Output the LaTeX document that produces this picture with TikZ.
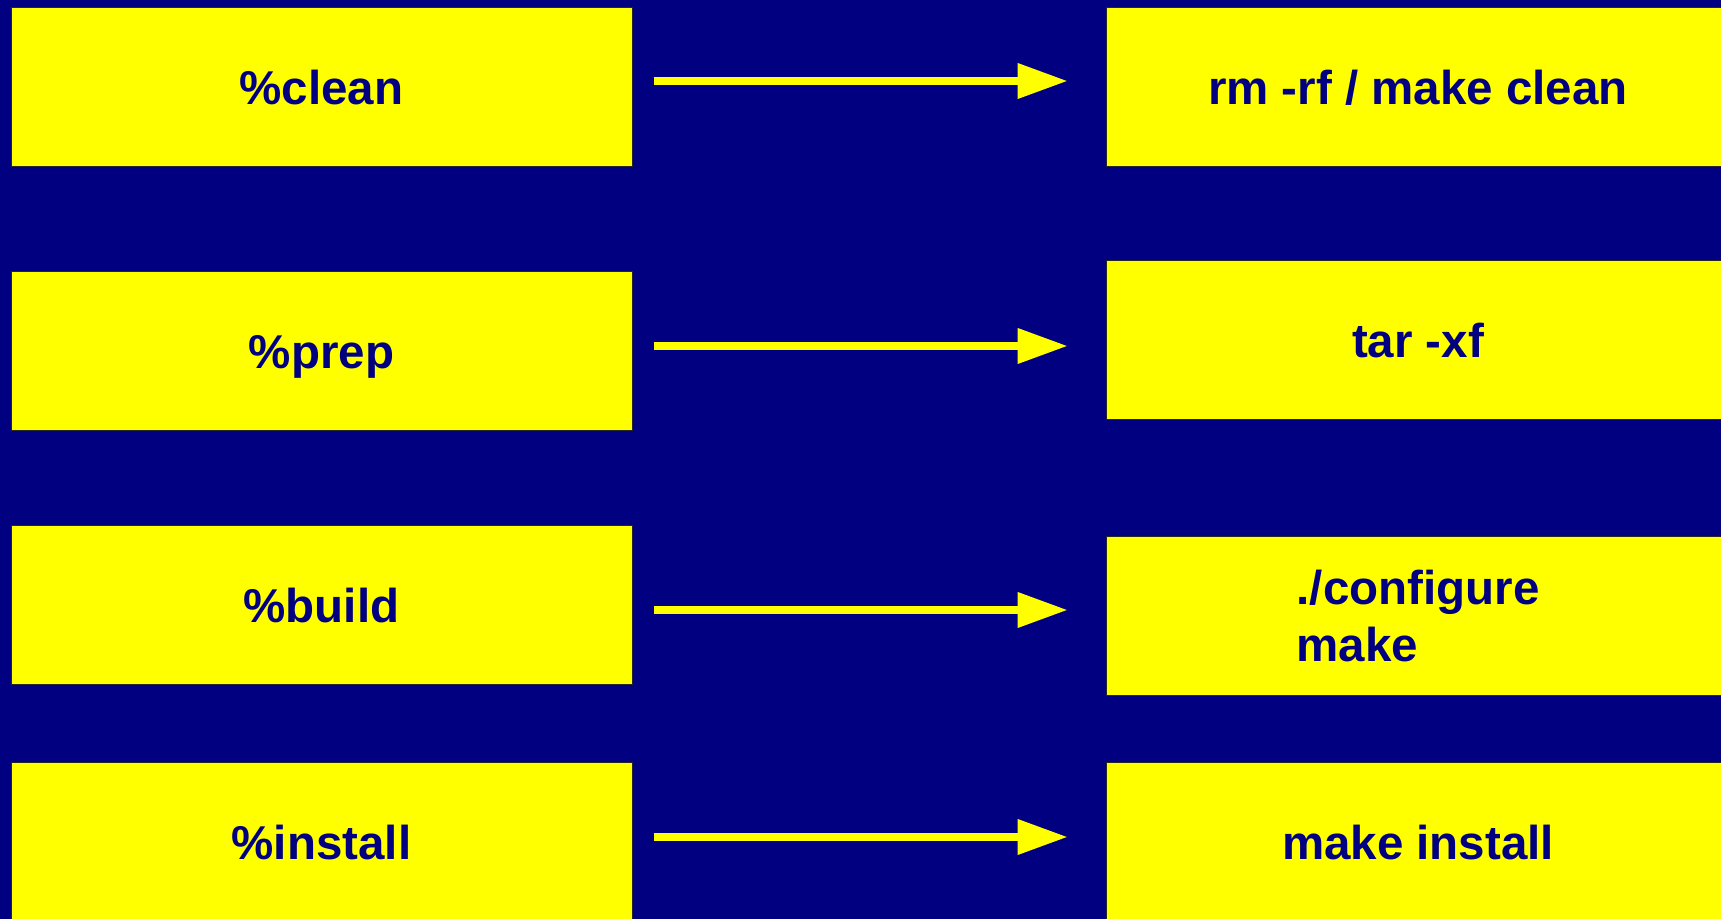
\documentclass[tikz,border=0pt]{standalone}
\usepackage{fontspec}
\setmainfont{Liberation Sans}
\usetikzlibrary{arrows.meta}
\definecolor{navy}{HTML}{000080}
\definecolor{brightyellow}{HTML}{FFFF00}
\begin{document}
\begin{tikzpicture}[x=0.5pt,y=-0.5pt,
  stage/.style={fill=brightyellow, draw=black!85, line width=0.5pt, inner sep=0pt,
    minimum height=79.5pt, text=navy,
    font=\bfseries\fontsize{23.75}{28.5}\selectfont},
  leftstage/.style={stage, minimum width=310.5pt},
  rightstage/.style={stage, minimum width=312pt},
  oneline/.style={text height=17.1pt, text depth=0pt},
  flow/.style={draw=brightyellow, line width=3.65pt,
    -{Triangle[length=25pt,width=17pt]}}]
  % page and background
  \fill[navy] (0,0) rectangle (1721,919);
  \useasboundingbox (0,0) rectangle (1721,919);

  % rpm spec sections
  \node[leftstage,oneline] (clean)   at (321.5,87.5)  {\%clean};
  \node[leftstage,oneline] (prep)    at (321.5,351)   {\%prep};
  \node[leftstage,oneline] (build)   at (321.5,605)   {\%build};
  \node[leftstage,oneline] (install) at (321.5,842.5) {\%install};

  % equivalent shell commands
  \node[rightstage,oneline] (rmclean) at (1418,87.5)  {rm -rf / make clean};
  \node[rightstage,oneline] (untar)   at (1418,340)   {tar -xf};
  \node[rightstage,align=left] (conf) at (1418,616)   {./configure\\make};
  \node[rightstage,oneline] (mkinst)  at (1418,842.5) {make install};

  % arrows from section to command
  \coordinate (a1) at ([shift={(21,-6.5)}]clean.east);
  \coordinate (a2) at ([shift={(21,-5)}]prep.east);
  \coordinate (a3) at ([shift={(21,5)}]build.east);
  \coordinate (a4) at ([shift={(21,-5.5)}]install.east);
  \draw[flow] (a1) -- ([xshift=-19pt]a1 -| rmclean.west);
  \draw[flow] (a2) -- ([xshift=-19pt]a2 -| untar.west);
  \draw[flow] (a3) -- ([xshift=-19pt]a3 -| conf.west);
  \draw[flow] (a4) -- ([xshift=-19pt]a4 -| mkinst.west);
\end{tikzpicture}
\end{document}
